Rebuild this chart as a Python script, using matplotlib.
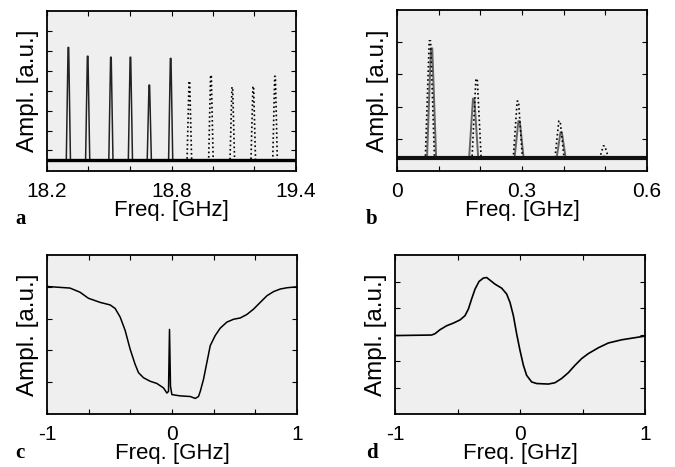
import matplotlib.pyplot as plt

plt.rcParams['font.family'] = ['Liberation Sans', 'DejaVu Sans']

# panel a: comb lines around 18.2-19.4 GHz
a_solid_f = [18.303, 18.396, 18.508, 18.602, 18.693, 18.796]
a_solid_h = [6.17, 5.73, 5.68, 5.68, 4.28, 5.62]
a_dot_f = [18.886, 18.990, 19.093, 19.194, 19.299]
a_dot_h = [4.48, 4.78, 4.18, 4.22, 4.72]
a_base = 0.52

# panel b: low frequency lines
b_solid_f = [0.083, 0.184, 0.293, 0.394, 0.497]
b_solid_h = [3.81, 2.25, 1.55, 1.20, 0.45]
b_dot_f = [0.079, 0.191, 0.290, 0.390, 0.497]
b_dot_h = [4.04, 2.86, 2.17, 1.55, 0.78]
b_base = 0.39

# panel c: broad dip with narrow spike
c_f = [-1.0, -0.816, -0.736, -0.669, -0.575, -0.495, -0.455, -0.415, -0.375, -0.335,
       -0.295, -0.268, -0.228, -0.175, -0.121, -0.068, -0.041, -0.028, -0.020, -0.012,
       -0.001, 0.065, 0.146, 0.186, 0.212, 0.226, 0.252, 0.279, 0.306, 0.346,
       0.386, 0.439, 0.493, 0.546, 0.599, 0.653, 0.706, 0.760, 0.813, 0.866,
       0.920, 1.0]
c_a = [4.01, 3.96, 3.83, 3.64, 3.51, 3.43, 3.32, 3.05, 2.63, 2.04,
       1.56, 1.30, 1.14, 1.03, 0.96, 0.82, 0.66, 0.71, 2.66, 0.87,
       0.61, 0.57, 0.55, 0.49, 0.55, 0.71, 1.09, 1.62, 2.15, 2.47,
       2.70, 2.89, 2.98, 3.02, 3.13, 3.30, 3.51, 3.72, 3.85, 3.93,
       3.97, 4.00]

# panel d: dispersive shape
d_f = [-1.0, -0.707, -0.68, -0.64, -0.587, -0.533, -0.48, -0.44, -0.413, -0.387,
       -0.36, -0.328, -0.293, -0.267, -0.24, -0.2, -0.147, -0.107, -0.08, -0.053,
       -0.027, 0.0, 0.027, 0.053, 0.093, 0.133, 0.227, 0.28, 0.333, 0.387,
       0.44, 0.493, 0.547, 0.627, 0.707, 0.813, 0.92, 1.0]
d_a = [2.96, 2.98, 3.03, 3.18, 3.33, 3.43, 3.55, 3.71, 3.96, 4.34,
       4.71, 5.00, 5.13, 5.15, 5.05, 4.90, 4.75, 4.53, 4.21, 3.71,
       3.03, 2.40, 1.84, 1.46, 1.21, 1.15, 1.13, 1.18, 1.34, 1.56,
       1.84, 2.09, 2.28, 2.50, 2.68, 2.80, 2.88, 2.94]


def peaks_line(freqs, heights, base, hw, x0, x1):
    xs, ys = [x0], [base]
    for f, h in zip(freqs, heights):
        xs += [f - hw, f - hw * 0.15, f + hw * 0.15, f + hw]
        ys += [base, h, h, base]
    xs.append(x1)
    ys.append(base)
    return xs, ys


def style(ax, xlim, xticks, xlabels, ylim, yticks):
    ax.set_facecolor('#efefef')
    ax.set_xlim(*xlim)
    ax.set_ylim(*ylim)
    ax.set_xticks(xticks)
    ax.set_xticklabels(xlabels)
    ax.set_yticks(yticks)
    ax.set_yticklabels([])
    ax.tick_params(direction='in', length=3.5, width=0.8, top=True, right=True,
                   labelsize=15, pad=8)
    ax.tick_params(axis='y', pad=0)
    for s in ax.spines.values():
        s.set_linewidth(1.3)
    ax.set_xlabel('Freq. [GHz]', fontsize=16, labelpad=-1)
    ax.set_ylabel('Ampl. [a.u.]', fontsize=17.5, labelpad=6)


fig = plt.figure(figsize=(6.75, 4.67), dpi=100)
W, H = 675, 467


def add_axes(l, r, t, b):
    return fig.add_axes([l / W, 1 - b / H, (r - l) / W, (b - t) / H])


ax_a = add_axes(47, 296, 11, 171)
ax_b = add_axes(397, 647, 10, 171)
ax_c = add_axes(47, 297, 255, 414)
ax_d = add_axes(395, 645, 255, 414)

# a
x, y = peaks_line(a_dot_f, a_dot_h, a_base, 0.011, 18.2, 19.4)
ax_a.plot(x, y, color='black', ls=':', lw=1.2)
x, y = peaks_line(a_solid_f, a_solid_h, a_base, 0.010, 18.2, 19.4)
ax_a.plot(x, y, color='#222222', lw=1.1)
ax_a.plot([18.2, 19.4], [a_base, a_base], color='black', lw=2.4)
style(ax_a, (18.2, 19.4), [18.2, 18.4, 18.6, 18.8, 19.0, 19.2, 19.4],
      ['18.2', '', '', '18.8', '', '', '19.4'], (-0.03, 8), range(1, 8))

# b
x, y = peaks_line(b_solid_f, b_solid_h, b_base, 0.011, 0, 0.6)
ax_b.plot(x, y, color='#666666', lw=1.4)
x, y = peaks_line(b_dot_f, b_dot_h, b_base, 0.011, 0, 0.6)
ax_b.plot(x, y, color='black', ls=':', lw=1.2)
ax_b.plot([0, 0.6], [b_base, b_base], color='#111111', lw=3.0)
style(ax_b, (0, 0.6), [0, 0.1, 0.2, 0.3, 0.4, 0.5, 0.6],
      ['0', '', '', '0.3', '', '', '0.6'], (0, 5), range(1, 5))

# c
ax_c.plot(c_f, c_a, color='black', lw=1.1)
style(ax_c, (-1, 1), [-1, -2 / 3, -1 / 3, 0, 1 / 3, 2 / 3, 1],
      ['-1', '', '', '0', '', '', '1'], (0, 5), range(1, 5))

# d
ax_d.plot(d_f, d_a, color='black', lw=1.2)
style(ax_d, (-1, 1), [-1, -0.5, 0, 0.5, 1],
      ['-1', '', '0', '', '1'], (0, 6), range(1, 6))

for lbl, px, py in [('a', 15, 224), ('b', 366, 224), ('c', 15, 458), ('d', 366, 458)]:
    fig.text(px / W, 1 - py / H, lbl, fontsize=15, fontweight='bold',
             family='Liberation Serif', ha='left', va='baseline')

fig.savefig('out.png', dpi=100)
